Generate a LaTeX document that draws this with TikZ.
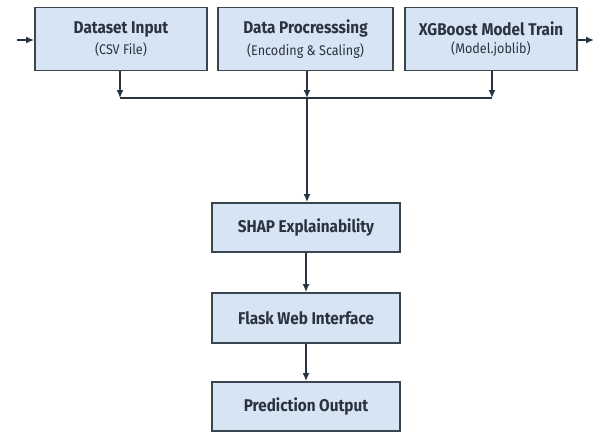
\documentclass[tikz,border=0pt]{standalone}
\usepackage{fontspec}
\setmainfont{Fira Sans}[FakeStretch=0.9]
\usetikzlibrary{arrows.meta}
\definecolor{boxfill}{HTML}{D6E4F4}
\definecolor{boxline}{HTML}{3A4552}
\definecolor{ink}{HTML}{2A3440}
\begin{document}
\begin{tikzpicture}[x=1pt,y=-1pt,
  stagebox/.style={draw=boxline,line width=1.8pt,fill=boxfill,rectangle,inner sep=0pt,text=ink,align=center},
  flow/.style={draw=ink,line width=1.5pt,-{Latex[length=8pt,width=7pt]}},
  link/.style={draw=ink,line width=1.5pt},
  title/.style={font=\bfseries\fontsize{17}{20}\selectfont}]
\useasboundingbox (0,0) rectangle (595,432);
\fill[white] (0,0) rectangle (595,432);
% top row
\node[stagebox,minimum width=172pt,minimum height=63pt] (ds) at (121,39)
  {{\bfseries\fontsize{17}{20}\selectfont Dataset Input}\\[5pt]{\fontsize{14}{16}\selectfont (CSV File)}};
\node[stagebox,minimum width=175pt,minimum height=63pt] (dp) at (305.5,39)
  {{\bfseries\fontsize{17}{20}\selectfont Data Procresssing}\\[5pt]{\fontsize{14}{16}\selectfont (Encoding \& Scaling)}};
\node[stagebox,minimum width=172pt,minimum height=63pt] (xg) at (491,39)
  {{\bfseries\fontsize{17}{20}\selectfont XGBoost Model Train}\\[5pt]{\fontsize{14}{16}\selectfont (Model.joblib)}};
% lower column
\node[stagebox,minimum width=188pt,minimum height=49pt,title] (shap) at (306,227.5) {SHAP Explainability};
\node[stagebox,minimum width=188pt,minimum height=50pt,title] (flask) at (306,318) {Flask Web Interface};
\node[stagebox,minimum width=188pt,minimum height=49pt,title] (pred) at (306,406.5) {Prediction Output};
% junction points
\coordinate (in) at (17,40);
\coordinate (out) at (594,40);
\coordinate (b1) at (120,98);
\coordinate (b2) at (307,98);
\coordinate (b3) at (492,98);
% side arrows
\draw[flow] (in) -- (ds.west |- in);
\draw[flow] (xg.east |- out) -- (out);
% drops into the bus
\draw[flow] (b1 |- ds.south) -- (b1);
\draw[flow] (b2 |- dp.south) -- (b2);
\draw[flow] (b3 |- xg.south) -- (b3);
\draw[link] (b1) -- (b3);
% main chain
\draw[flow] (b2) -- (b2 |- shap.north);
\draw[flow] (shap) -- (flask);
\draw[flow] (flask) -- (pred);
\end{tikzpicture}
\end{document}
